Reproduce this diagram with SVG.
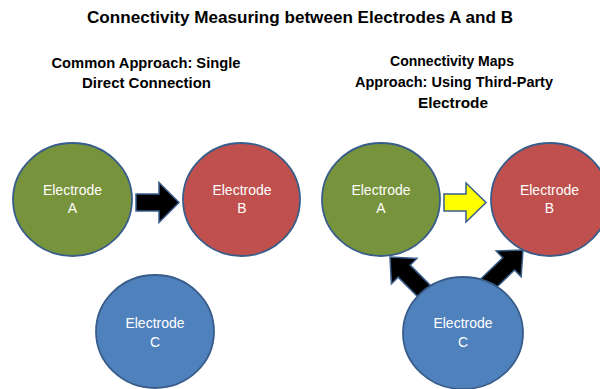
<svg xmlns="http://www.w3.org/2000/svg" width="600" height="389" viewBox="0 0 600 389">
<style>
.bg{fill:#ffffff}
.h{font-family:"Liberation Sans",Arial,sans-serif;font-weight:bold;fill:#000000;text-anchor:middle}
.lbl{font-family:"Liberation Sans",Arial,sans-serif;font-size:14px;fill:#ffffff;text-anchor:middle}
.node{stroke:#385d8a;stroke-width:1.8}
.a{fill:#77933c}
.b{fill:#c0504d}
.c{fill:#4f81bd}
.arrow{stroke:#385d8a;stroke-width:1.5;stroke-linejoin:miter}
</style>
<defs>
<path id="diag" d="M-52,-8.5 H-20 V-18 L0,0 L-20,18 V8.5 H-52 Z"/>
</defs>
<rect class="bg" x="0" y="0" width="600" height="389"/>
<g id="titles">
<text class="h" x="300" y="23" font-size="17" textLength="426" lengthAdjust="spacingAndGlyphs">Connectivity Measuring between Electrodes A and B</text>
<text class="h" x="146" y="68" font-size="15" textLength="189" lengthAdjust="spacingAndGlyphs">Common Approach: Single</text>
<text class="h" x="146.5" y="88" font-size="15" textLength="129" lengthAdjust="spacingAndGlyphs">Direct Connection</text>
<text class="h" x="452" y="66" font-size="15" textLength="124" lengthAdjust="spacingAndGlyphs">Connectivity Maps</text>
<text class="h" x="454" y="87" font-size="15" textLength="198" lengthAdjust="spacingAndGlyphs">Approach: Using Third-Party</text>
<text class="h" x="453" y="108" font-size="15" textLength="70" lengthAdjust="spacingAndGlyphs">Electrode</text>
</g>
<g id="connectors">
<path class="arrow" fill="#000000" d="M136,194 H159 V182.5 L179,202.5 L159,222.5 V211 H136 Z"/>
<path class="arrow" fill="#ffff00" d="M444,194 H466 V183 L486,202.5 L466,222 V211 H444 Z"/>
<use href="#diag" class="arrow" fill="#000000" transform="translate(390,257) rotate(-135)"/>
<use href="#diag" class="arrow" fill="#000000" transform="translate(523,250) rotate(-44)"/>
</g>
<g id="left-A">
<ellipse class="node a" cx="72.5" cy="199.5" rx="59.5" ry="56.5"/>
<text class="lbl" x="72.5" y="195">Electrode</text>
<text class="lbl" x="72.5" y="213">A</text>
</g>
<g id="left-B">
<ellipse class="node b" cx="241.5" cy="199.5" rx="58.5" ry="56.5"/>
<text class="lbl" x="242" y="195">Electrode</text>
<text class="lbl" x="242" y="213">B</text>
</g>
<g id="left-C">
<ellipse class="node c" cx="155" cy="331.5" rx="59" ry="56.5"/>
<text class="lbl" x="155" y="328">Electrode</text>
<text class="lbl" x="155" y="347">C</text>
</g>
<g id="right-A">
<ellipse class="node a" cx="381" cy="199.5" rx="59" ry="56.5"/>
<text class="lbl" x="381" y="195">Electrode</text>
<text class="lbl" x="381" y="213">A</text>
</g>
<g id="right-B">
<ellipse class="node b" cx="550" cy="199.5" rx="59" ry="56.5"/>
<text class="lbl" x="549.5" y="195">Electrode</text>
<text class="lbl" x="549.5" y="213">B</text>
</g>
<g id="right-C">
<ellipse class="node c" cx="463" cy="333" rx="60" ry="56"/>
<text class="lbl" x="463" y="328">Electrode</text>
<text class="lbl" x="463" y="347">C</text>
</g>
</svg>
